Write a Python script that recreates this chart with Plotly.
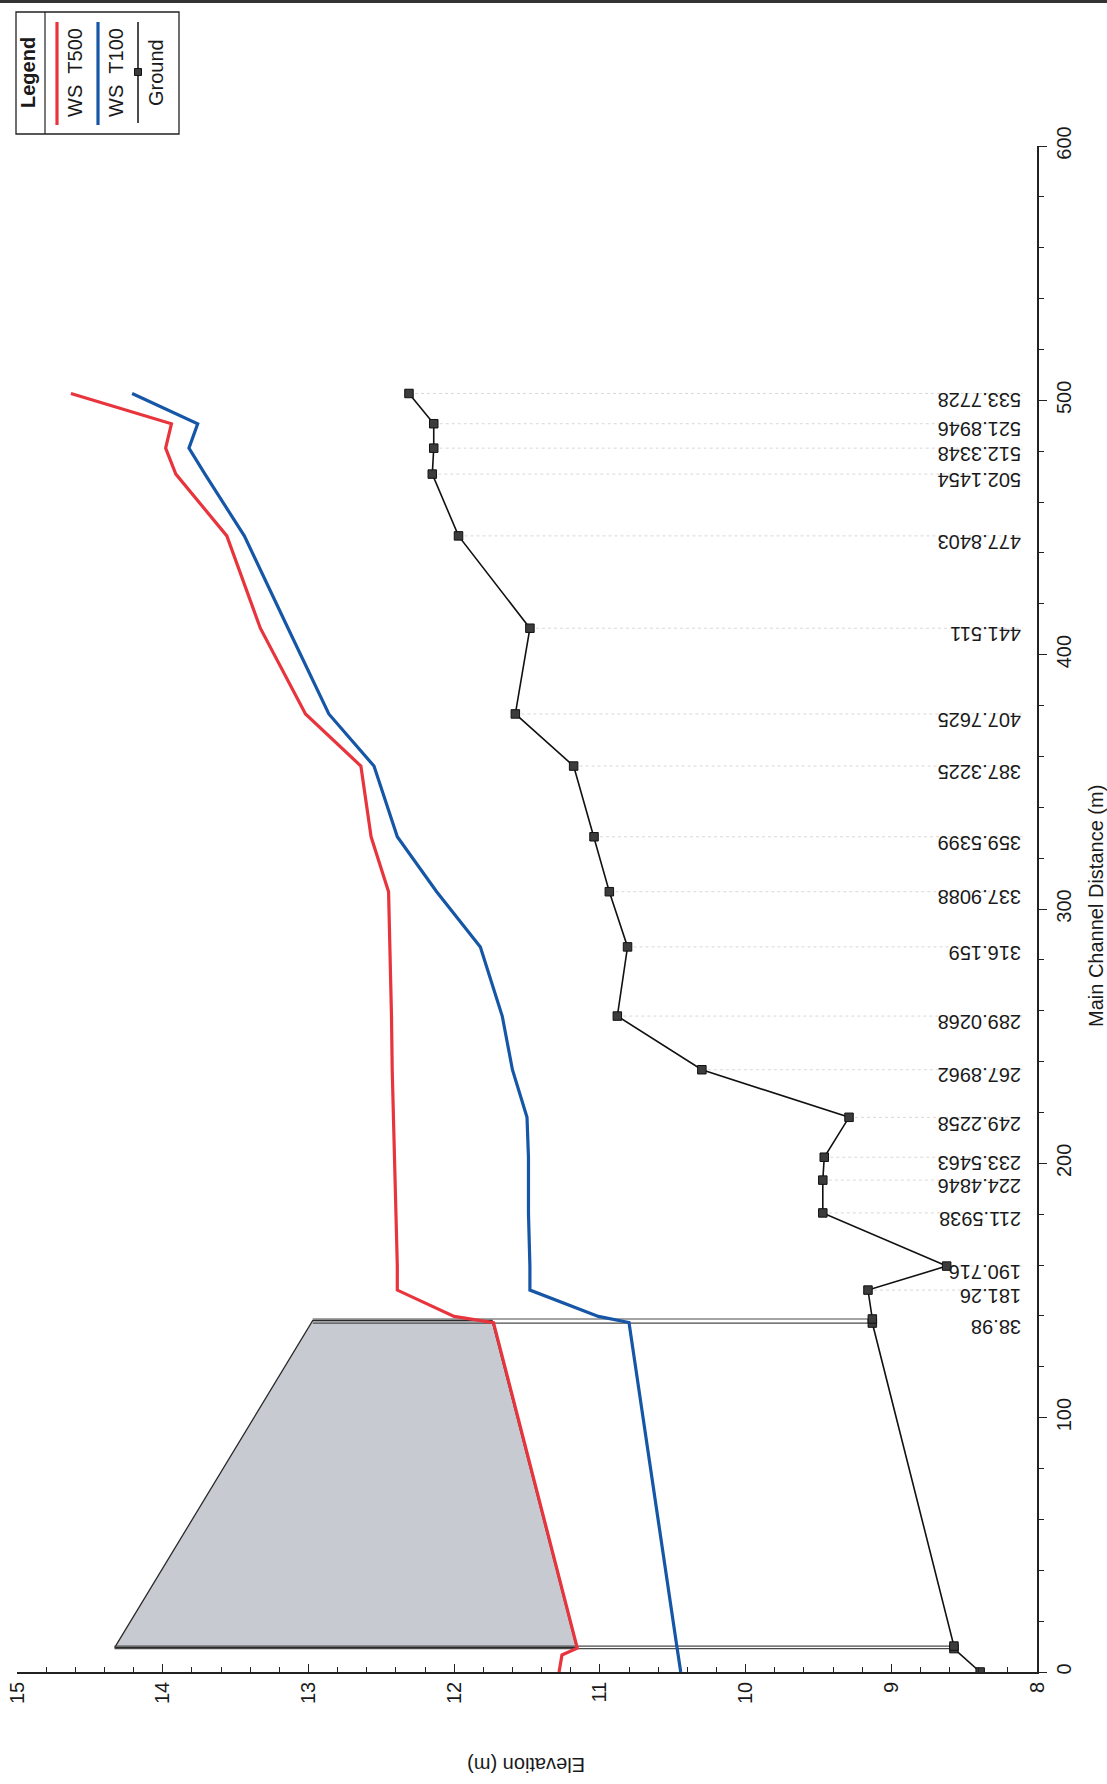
import numpy as np
import plotly.graph_objects as go

# ---------------- data ----------------
ground_dist = [0, 9.2, 10.2, 137.2, 138.8, 150.16, 159.6, 180.5, 193.4, 202.4, 218.1, 236.8,
               257.9, 285.1, 306.8, 328.4, 356.2, 376.7, 410.4, 446.7, 471.0, 481.2, 490.8, 502.7]
ground_elev = [8.39, 8.57, 8.57, 9.13, 9.13, 9.16, 8.62, 9.47, 9.47, 9.46, 9.29, 10.30,
               10.88, 10.81, 10.935, 11.04, 11.18, 11.58, 11.48, 11.97, 12.15, 12.14, 12.14, 12.31]

ws_dist = [0, 6.7, 9.4, 137.4, 139.8, 150.16, 159.6, 180.5, 193.4, 202.4, 218.1, 236.8,
           257.9, 285.1, 306.8, 328.4, 356.2, 376.7, 410.4, 446.7, 471.0, 481.2, 490.8, 502.7]
ws_t500 = [11.28, 11.26, 11.155, 11.73, 12.00, 12.39, 12.39, 12.40, 12.405, 12.41, 12.415, 12.425,
           12.43, 12.44, 12.45, 12.57, 12.64, 13.02, 13.33, 13.56, 13.91, 13.98, 13.94, 14.63]
ws_t100 = [10.445, 10.46, 10.47, 10.80, 11.01, 11.48, 11.48, 11.49, 11.49, 11.49, 11.50, 11.60,
           11.67, 11.82, 12.12, 12.39, 12.55, 12.86, 13.14, 13.44, 13.71, 13.82, 13.76, 14.21]

# bridge deck (high chord / low chord)
deck_dist = [9.6, 138.2]
deck_high = [14.33, 12.97]
deck_low = [11.16, 11.74]
face_dist = [9.2, 10.2, 137.2, 138.8]
face_top = [14.33, 14.33, 12.97, 12.97]

station_labels = ["38.98", "181.26", "190.716", "211.5938", "224.4846", "233.5463", "249.2258",
                  "267.8962", "289.0268", "316.159", "337.9088", "359.5399", "387.3225", "407.7625",
                  "441.511", "477.8403", "502.1454", "512.3348", "521.8946", "533.7728"]
station_dist = [138.0, 150.16, 159.6, 180.5, 193.4, 202.4, 218.1, 236.8, 257.9, 285.1, 306.8,
                328.4, 356.2, 376.7, 410.4, 446.7, 471.0, 481.2, 490.8, 502.7]

elev_ticks = [8, 9, 10, 11, 12, 13, 14, 15]
dist_ticks = [0, 100, 200, 300, 400, 500, 600]

# ---------------- layout helpers ----------------
W_FIG, H_FIG = 1107, 1784
L, R, T, B = 17, 1037, 146, 1672
PW, PH = R - L, B - T
FONT = "Liberation Sans, Arial, sans-serif"
TXT = "#1a1a1a"
RED = "#e8343c"
BLUE = "#1656a6"


def px(x):
    return (x - L) / PW


def py(y):
    return (B - y) / PH


fig = go.Figure()

# station guide lines (faint)
g_at = np.interp(station_dist, ground_dist, ground_elev)
for d, g in zip(station_dist[1:], g_at[1:]):
    fig.add_trace(go.Scatter(x=[g, 8.1], y=[d, d], mode="lines",
                             line=dict(color="#d8d8d8", width=1, dash="dot"),
                             hoverinfo="skip", showlegend=False))

# bridge deck
fig.add_trace(go.Scatter(
    x=[deck_high[0], deck_high[1], deck_low[1], deck_low[0], deck_high[0]],
    y=[deck_dist[0], deck_dist[1], deck_dist[1], deck_dist[0], deck_dist[0]],
    mode="lines", fill="toself", fillcolor="#c8cad2",
    line=dict(color="#2a2a2a", width=1.3), hoverinfo="skip", showlegend=False))

# bridge faces
g_face = np.interp(face_dist, ground_dist, ground_elev)
for d, top, g in zip(face_dist, face_top, g_face):
    fig.add_trace(go.Scatter(x=[top, g], y=[d, d], mode="lines",
                             line=dict(color="#4a4a4a", width=1.2),
                             hoverinfo="skip", showlegend=False))

# water surfaces
fig.add_trace(go.Scatter(x=ws_t500, y=ws_dist, mode="lines", name="WS  T500",
                         line=dict(color=RED, width=3.2), showlegend=False))
fig.add_trace(go.Scatter(x=ws_t100, y=ws_dist, mode="lines", name="WS  T100",
                         line=dict(color=BLUE, width=3.2), showlegend=False))

# ground
fig.add_trace(go.Scatter(x=ground_elev, y=ground_dist, mode="lines+markers", name="Ground",
                         line=dict(color="#111111", width=1.6),
                         marker=dict(symbol="square", size=8.5, color="#3c3c3c",
                                     line=dict(color="#111111", width=1)),
                         showlegend=False))

annotations = []
# station labels (upside down)
for lab, d in zip(station_labels, station_dist):
    annotations.append(dict(x=8, y=d, xref="x", yref="y", text=lab, showarrow=False,
                            textangle=180, xanchor="right", yanchor="middle",
                            xshift=-14, yshift=-6,
                            font=dict(family=FONT, size=20, color=TXT)))

# axis titles
annotations.append(dict(x=px(526), y=py(1765), xref="paper", yref="paper",
                        text="Elevation (m)", showarrow=False, textangle=180,
                        xanchor="center", yanchor="middle",
                        font=dict(family=FONT, size=20, color=TXT)))
annotations.append(dict(x=px(1096), y=py(906), xref="paper", yref="paper",
                        text="Main Channel Distance (m)", showarrow=False, textangle=-90,
                        xanchor="center", yanchor="middle",
                        font=dict(family=FONT, size=20, color=TXT)))

# legend (rotated)
NB = "\u00a0"
leg_items = [("<b>Legend</b>", 28, 73), ("WS" + NB + NB + "T500", 75, 73),
             ("WS" + NB + NB + "T100", 116, 73), ("Ground", 156, 73)]
for t, lx, ly in leg_items:
    annotations.append(dict(x=px(lx), y=py(ly), xref="paper", yref="paper", text=t,
                            showarrow=False, textangle=-90, xanchor="center",
                            yanchor="middle", font=dict(family=FONT, size=20, color=TXT)))

shapes = []
shapes.append(dict(type="rect", xref="paper", yref="paper", x0=px(16), x1=px(179),
                   y0=py(12), y1=py(134), line=dict(color="#222222", width=1.3),
                   fillcolor="rgba(255,255,255,0)"))
shapes.append(dict(type="line", xref="paper", yref="paper", x0=px(45), x1=px(45),
                   y0=py(12), y1=py(134), line=dict(color="#222222", width=1.2)))
shapes.append(dict(type="line", xref="paper", yref="paper", x0=px(57), x1=px(57),
                   y0=py(22), y1=py(125), line=dict(color=RED, width=3.2)))
shapes.append(dict(type="line", xref="paper", yref="paper", x0=px(98), x1=px(98),
                   y0=py(22), y1=py(125), line=dict(color=BLUE, width=3.2)))
shapes.append(dict(type="line", xref="paper", yref="paper", x0=px(138), x1=px(138),
                   y0=py(22), y1=py(123), line=dict(color="#111111", width=1.5)))
shapes.append(dict(type="rect", xref="paper", yref="paper", x0=px(134.5), x1=px(141.5),
                   y0=py(68.5), y1=py(75.5), line=dict(color="#111111", width=1),
                   fillcolor="#3c3c3c"))
# scan border at top of page
shapes.append(dict(type="line", xref="paper", yref="paper", x0=px(0), x1=px(W_FIG),
                   y0=py(1.5), y1=py(1.5), line=dict(color="#333333", width=3)))

fig.update_layout(
    width=W_FIG, height=H_FIG, autosize=False,
    margin=dict(l=L, r=W_FIG - R, t=T, b=H_FIG - B, pad=0),
    paper_bgcolor="white", plot_bgcolor="white",
    font=dict(family=FONT, size=20, color=TXT),
    showlegend=False,
    annotations=annotations, shapes=shapes,
    xaxis=dict(range=[15, 8], tickvals=elev_ticks, tickangle=-90, automargin=False,
               ticks="inside", ticklen=8, tickwidth=1.2, tickcolor="#222222",
               minor=dict(dtick=0.2, ticks="inside", ticklen=5, tickwidth=1, tickcolor="#222222"),
               showline=True, linecolor="#222222", linewidth=1.5,
               showgrid=False, zeroline=False, tickfont=dict(size=20, family=FONT, color=TXT)),
    yaxis=dict(range=[0, 600], tickvals=dist_ticks, side="right", tickangle=-90, automargin=False,
               ticks="outside", ticklen=8, tickwidth=1.2, tickcolor="#222222",
               minor=dict(dtick=20, ticks="outside", ticklen=5, tickwidth=1, tickcolor="#222222"),
               showline=True, linecolor="#222222", linewidth=1.5,
               showgrid=False, zeroline=False, tickfont=dict(size=20, family=FONT, color=TXT)),
)

fig.write_html("out.html", config=dict(displayModeBar=False),
               post_script="document.body.style.margin='0';document.body.style.overflow='hidden';")
